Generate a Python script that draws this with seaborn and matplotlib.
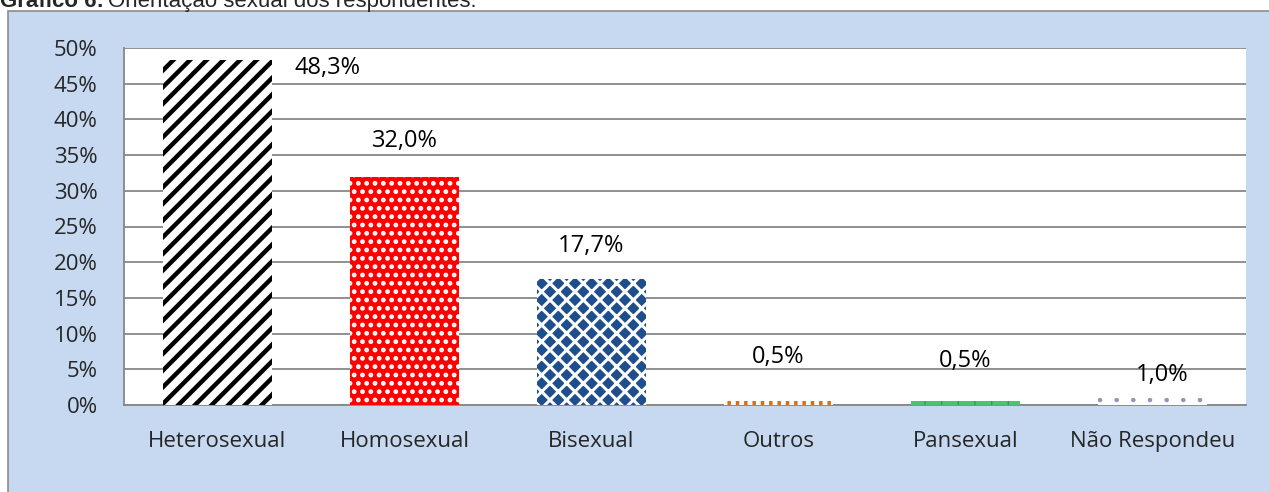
import matplotlib
matplotlib.use("Agg")
import matplotlib.pyplot as plt
import seaborn as sns
import pandas as pd
from matplotlib.patches import Rectangle

categories = ["Heterosexual", "Homosexual", "Bisexual", "Outros", "Pansexual", "Não Respondeu"]
values = [48.3, 32.0, 17.7, 0.5, 0.5, 1.0]
labels = ["48,3%", "32,0%", "17,7%", "0,5%", "0,5%", "1,0%"]
yticks = [0, 5, 10, 15, 20, 25, 30, 35, 40, 45, 50]

# fill, hatch colour, hatch, hatch width
styles = [
    ("white", "black", "//", 3.2),
    ("#FF0000", "white", "..", 2.2),
    ("#1F4E8C", "white", "xx", 2.2),
    ("white", "#E36C09", "||", 2.5),
    ("#4FC174", "#2E9E52", "|", 1.0),
    ("white", "#8A98B5", ".", 0.8),
]
# label offset in pixels (dx, dy) from top of bar
offsets = [(110, -8), (0, 36), (0, 33), (0, 44), (0, 40), (10, 23)]

sns.set_style("white")
plt.rcParams["font.family"] = ["Open Sans", "DejaVu Sans"]

df = pd.DataFrame({"cat": categories, "val": values})

fig = plt.figure(figsize=(12.69, 4.92), dpi=100, facecolor="white")
H = 492
W = 1269
bg = Rectangle((8 / W, -0.01), 1.0, 1 - 11 / H + 0.01, transform=fig.transFigure,
               facecolor="#C6D9F0", edgecolor="#8C8C8C", linewidth=1.2, zorder=-5)
fig.add_artist(bg)
t1 = fig.text(0.0, 1 - 7 / H, "Gráfico 6:", fontsize=16, fontweight="bold", family="Liberation Sans", va="baseline")
fig.canvas.draw()
x1 = t1.get_window_extent().x1 / W
fig.text(x1 + 4 / W, 1 - 7 / H, "Orientação sexual dos respondentes.", fontsize=16,
         family="Liberation Sans", va="baseline")

ax = fig.add_axes([124 / W, 1 - 405 / H, (1246 - 124) / W, (405 - 48) / H])
ax.set_facecolor("white")

sns.barplot(data=df, x="cat", y="val", ax=ax, width=0.58, color="white", zorder=3)

for i, p in enumerate(ax.patches):
    fc, hc, hatch, hw = styles[i]
    p.set_facecolor(fc)
    p.set_edgecolor(hc)
    p.set_linewidth(0)
    p.set_hatch(hatch)
    if hasattr(p, "set_hatch_linewidth"):
        p.set_hatch_linewidth(hw)
    if hasattr(p, "set_hatchcolor"):
        p.set_hatchcolor(hc)

for i, v in enumerate(values):
    dx, dy = offsets[i]
    ax.annotate(labels[i], (i, v), xytext=(dx * 0.72, dy * 0.72), textcoords="offset points",
                ha="center", va="center", fontsize=17, color="black")

ax.set_ylim(0, 50)
ax.set_xlim(-0.5, len(categories) - 0.5)
ax.set_yticks(yticks)
ax.set_yticklabels([f"{t}%" for t in yticks], fontsize=16)
ax.tick_params(axis="x", labelsize=16, length=0, pad=19)
ax.tick_params(axis="y", length=0, pad=19)
for t in ax.get_yticklabels():
    t.set_horizontalalignment("right")
ax.yaxis.grid(True, color="#878787", linewidth=1.3, zorder=0)
ax.set_axisbelow(True)
ax.set_xlabel("")
ax.set_ylabel("")
for s in ["top", "right"]:
    ax.spines[s].set_visible(False)
for s in ["left", "bottom"]:
    ax.spines[s].set_color("#878787")
    ax.spines[s].set_linewidth(1.3)

fig.savefig("out.png", dpi=100, facecolor="white")
